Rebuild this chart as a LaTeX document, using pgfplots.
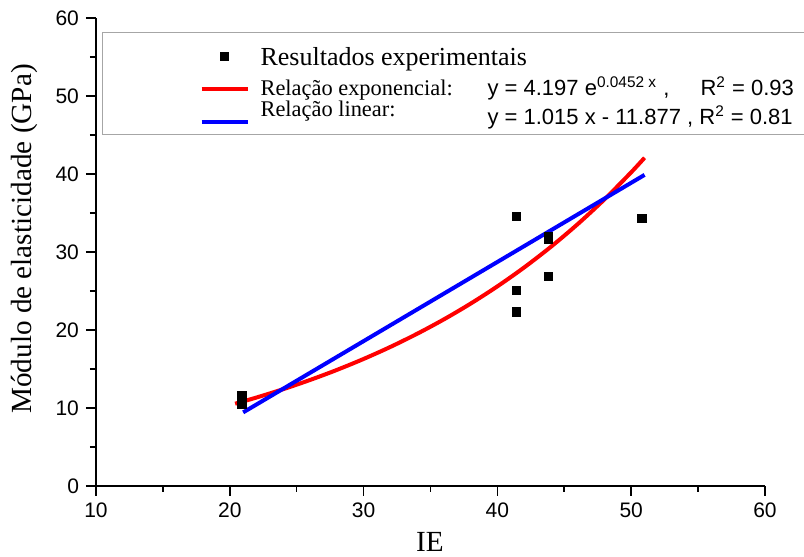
\documentclass[border=0pt]{standalone}
\usepackage{fontspec}
\setmainfont{Liberation Serif}
\setsansfont{Liberation Sans}
\usepackage{pgfplots}
\pgfplotsset{compat=1.18}
\definecolor{fitred}{RGB}{255,0,0}
\definecolor{fitblue}{RGB}{0,0,255}
\pgfplotsset{
  linelegend/.style n args={3}{legend image code/.code={%
    \path[draw=none, fill=none] (0pt,-#3) rectangle (23pt,#2);
    \draw[##1] (0pt,#1) -- (23pt,#1);}},
  marklegend/.style n args={3}{legend image code/.code={%
    \path[draw=none, fill=none] (0pt,-#3) rectangle (23pt,#2);
    \draw[mark repeat=1, mark phase=1, ##1] plot coordinates {(11.5pt,#1)};}},
}
\begin{document}
\begin{tikzpicture}
\begin{axis}[
  scale only axis, width=334.5pt, height=234pt,
  xmin=10, xmax=60, ymin=0, ymax=60,
  axis x line=bottom, axis y line=left,
  axis line style={-, line width=0.9pt, black},
  xtick={10,20,...,60}, ytick={0,10,...,60},
  minor x tick num=1, minor y tick num=1,
  tick align=outside, major tick length=5pt, minor tick length=3pt,
  tick style={line width=0.8pt, black},
  ticklabel style={font=\sffamily\fontsize{10.5}{12}\selectfont},
  /pgf/number format/assume math mode=true,
  xlabel={IE}, ylabel={Módulo de elasticidade (GPa)},
  label style={font=\fontsize{14.6}{16}\selectfont},
  xlabel style={at={(axis description cs:0.4993,-0.1197)}, anchor=center},
  ylabel style={at={(axis description cs:-0.1076,0.5278)}, anchor=center},
  legend style={at={(axis description cs:0.0085,0.9707)}, anchor=north west,
    draw=gray!70, line width=0.7pt, inner xsep=48.6pt, inner ysep=0pt,
    row sep=0pt, column sep=3.5pt,
    cells={anchor=base west, inner sep=0pt, outer sep=0pt}},
]
\addlegendimage{only marks, mark=square*, mark size=2pt, black, marklegend={4.5pt}{16.65pt}{4pt}}
\addlegendentry{\raisebox{0pt}[0pt][0pt]{\fontsize{13}{15}\selectfont Resultados experimentais}}
\addlegendimage{fitred, line width=2pt, linelegend={3.35pt}{11pt}{3pt}}
\addlegendentry{\raisebox{0pt}[0pt][0pt]{\fontsize{11.2}{13}\selectfont\makebox[113.5pt][l]{Relação exponencial:}{\sffamily\fontsize{11}{13}\selectfont\makebox[106.5pt][l]{y = 4.197 e\textsuperscript{0.0452 x} ,}R\textsuperscript{2} = 0.93}}}
\addlegendimage{fitblue, line width=2pt, linelegend={-2.85pt}{7pt}{8.85pt}}
\addlegendentry{\raisebox{0pt}[0pt][0pt]{\fontsize{11.2}{13}\selectfont\makebox[113.5pt][l]{Relação linear:}\raisebox{-4pt}{\sffamily\fontsize{11}{13}\selectfont y = 1.015 x - 11.877 , R\textsuperscript{2} = 0.81}}}

\addplot[fitred, line width=2pt, smooth, forget plot] coordinates {
(20.4,10.553) (22,11.345) (24,12.418) (26,13.593) (28,14.878) (30,16.287)
(32,17.828) (34,19.515) (36,21.361) (38,23.383) (40,25.595) (42,28.017)
(44,30.668) (46,33.570) (48,36.746) (50,40.221) (51,42.082)};
\addplot[fitblue, line width=2pt, forget plot] coordinates {(21,9.438) (51,39.888)};
\addplot[only marks, mark=square*, mark size=2.1pt, black, forget plot] coordinates {
(20.9,11.6) (20.9,10.5)
(41.4,34.6) (41.4,25.1) (41.4,22.3)
(43.8,32.0) (43.8,31.6) (43.8,26.9)
(50.8,34.3)};
\end{axis}
\pgfresetboundingbox
\path[use as bounding box] (-48pt,-35.5pt) rectangle (354pt,243pt);
\end{tikzpicture}
\end{document}
